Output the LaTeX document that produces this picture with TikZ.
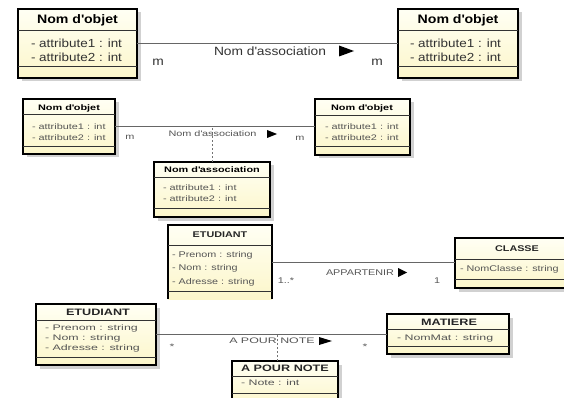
\documentclass[tikz,border=0pt]{standalone}
\usepackage{fontspec}
\setmainfont{Liberation Sans}
% horizontally widened faces, one per group of classes
\newfontfamily\fa{Liberation Sans}[FakeStretch=1.15]
\newfontfamily\fb{Liberation Sans}[FakeStretch=1.36]
\newfontfamily\fc{Liberation Sans}[FakeStretch=1.30]
\newfontfamily\fd{Liberation Sans}[FakeStretch=1.55]
\usetikzlibrary{shadows}

\definecolor{boxtop}{HTML}{FFFFF4}
\definecolor{boxbot}{HTML}{FCF6CA}
\definecolor{attrA}{HTML}{333333}
\definecolor{attrB}{HTML}{555555}
\definecolor{lineC}{HTML}{666666}

% class frame: name, x1, y1, x2, y2, border width
\newcommand\classfrm[6]{%
  \node[classbox=#6, minimum width={#4pt-#2pt}, minimum height={#5pt-#3pt}] (#1) at (#2,#3) {};}
% compartment divider: class name, y
\newcommand\divider[2]{\draw[divline] (#1.west |- 0,#2) -- (#1.east |- 0,#2);}

\begin{document}
\begin{tikzpicture}[x=1pt,y=-1pt,
  classbox/.style={draw=black, line width=#1, top color=boxtop, bottom color=boxbot,
    inner sep=0pt, outer sep=0pt, anchor=north west,
    drop shadow={shadow xshift=3.5pt, shadow yshift=-3.5pt, fill=black!18, opacity=1}},
  boxfill/.style={draw=none, top color=boxtop, bottom color=boxbot,
    inner sep=0pt, outer sep=0pt, anchor=north west},
  divline/.style={draw=black!80, line width=1pt},
  conn/.style={draw=lineC, line width=1pt},
  assocdots/.style={draw=black!55, line width=1pt, dash pattern=on 2pt off 2pt},
  txt/.style={inner sep=0pt, outer sep=0pt},
  % first pair of classes
  t1/.style={txt, font=\fa\bfseries\fontsize{12.3}{14}\selectfont},
  a1/.style={txt, anchor=west, text=attrA, font=\fa\fontsize{11.7}{14}\selectfont},
  l1/.style={txt, text=attrA, font=\fa\fontsize{12}{14}\selectfont},
  % association class example
  t2/.style={txt, font=\fb\bfseries\fontsize{8}{10}\selectfont},
  a2/.style={txt, anchor=west, text=attrB, font=\fb\fontsize{8}{10}\selectfont},
  l2/.style={txt, text=attrB, font=\fb\fontsize{8}{10}\selectfont},
  % ETUDIANT / CLASSE
  t3/.style={txt, text=black!85, font=\fc\bfseries\fontsize{8.3}{10}\selectfont},
  a3/.style={txt, anchor=west, text=attrB, font=\fc\fontsize{8.3}{10}\selectfont},
  l3/.style={txt, text=attrB, font=\fc\fontsize{8.3}{10}\selectfont},
  % ETUDIANT / MATIERE / A POUR NOTE
  t4/.style={txt, text=black!85, font=\fb\bfseries\fontsize{9.3}{11}\selectfont},
  a4/.style={txt, anchor=west, text=attrB, font=\fd\fontsize{8}{10}\selectfont},
  l4/.style={txt, text=attrB, font=\fd\fontsize{8}{10}\selectfont},
]
\useasboundingbox (0,0) rectangle (564,398);
\fill[white] (0,0) rectangle (564,398);
\clip (0,0) rectangle (564,398);

% ---------- generic binary association ----------
\classfrm{o1}{18}{9}{137}{78}{2.3pt}
\divider{o1}{31}\divider{o1}{67}
\node[t1] (o1n) at (77.5,20) {Nom d\textquotesingle objet};
\node[a1] (o1a) at (31,43) {- attribute1 : int};
\node[a1] (o1b) at (31,57.5) {- attribute2 : int};

\classfrm{o2}{398}{9}{518}{78}{2.3pt}
\divider{o2}{31}\divider{o2}{67}
\node[t1] (o2n) at (458,20) {Nom d\textquotesingle objet};
\node[a1] (o2a) at (410,43) {- attribute1 : int};
\node[a1] (o2b) at (410,57.5) {- attribute2 : int};

\draw[conn, line width=1.2pt] (o1.east) -- (o2.west);
\node[l1] (as1) at (270,51) {Nom d\textquotesingle association};
\fill (339,45.5) -- (354,51) -- (339,56.5) -- cycle;
\node[l1] (m1a) at (158,62) {m};
\node[l1] (m1b) at (377,62) {m};

% ---------- association class ----------
\classfrm{o3}{23}{99}{115}{154}{1.8pt}
\divider{o3}{115}\divider{o3}{147}
\node[t2] (o3n) at (69,108) {Nom d\textquotesingle objet};
\node[a2] (o3a) at (32,127) {- attribute1 : int};
\node[a2] (o3b) at (32,138) {- attribute2 : int};

\classfrm{o4}{315}{99}{410}{155}{1.8pt}
\divider{o4}{116}\divider{o4}{147}
\node[t2] (o4n) at (362,108) {Nom d\textquotesingle objet};
\node[a2] (o4a) at (325,127) {- attribute1 : int};
\node[a2] (o4b) at (325,138) {- attribute2 : int};

\classfrm{c2}{154}{162}{270}{217}{1.8pt}
\divider{c2}{177}\divider{c2}{208}
\node[t2] (c2n) at (212,170) {Nom d\textquotesingle association};
\node[a2] (c2a) at (163,188) {- attribute1 : int};
\node[a2] (c2b) at (163,199) {- attribute2 : int};

\draw[conn] (o3.east) -- (o3.east -| o4.west);
\draw[assocdots] (c2.north) -- (c2.north |- o3.east);
\node[l2] (as2) at (212.5,134) {Nom d\textquotesingle association};
\fill (267,130) -- (277,134) -- (267,138) -- cycle;
\node[l2] (m2a) at (130,137) {m};
\node[l2] (m2b) at (300,138) {m};

% ---------- ETUDIANT appartient a CLASSE ----------
\node[boxfill, minimum width=104pt, minimum height=74pt] (e3) at (168,225) {};
\draw[black, line width=1.5pt] (e3.south west) -- (e3.north west) -- (e3.north east) -- (e3.south east);
\divider{e3}{245}\divider{e3}{291}
\node[t3] (e3n) at (220,235) {ETUDIANT};
\node[a3] (e3a) at (172,255) {- Prenom : string};
\node[a3] (e3b) at (172,268.5) {- Nom : string};
\node[a3] (e3c) at (172,282) {- Adresse : string};

\classfrm{c3}{455}{238}{579}{288}{1.5pt}
\divider{c3}{259}\divider{c3}{279}
\node[t3] (c3n) at (517,249) {CLASSE};
\node[a3] (c3a) at (460,269) {- NomClasse : string};

\draw[conn] (e3.east) -- (e3.east -| c3.west);
\node[l3] (m3a) at (286,281) {1..*};
\node[l3] (as3) at (360,273) {APPARTENIR};
\fill (398,268) -- (407,272.5) -- (398,277) -- cycle;
\node[l3] (m3b) at (437,281) {1};

% ---------- ETUDIANT a pour note MATIERE ----------
\classfrm{e4}{36}{304}{156}{365}{1.6pt}
\divider{e4}{320}\divider{e4}{357}
\node[t4] (e4n) at (98,312.5) {ETUDIANT};
\node[a4] (e4a) at (45,328.5) {- Prenom : string};
\node[a4] (e4b) at (45,338.5) {- Nom : string};
\node[a4] (e4c) at (45,348.5) {- Adresse : string};

\classfrm{m4}{387}{314}{509}{354}{1.6pt}
\divider{m4}{329}\divider{m4}{346}
\node[t4] (m4n) at (449,322) {MATIERE};
\node[a4] (m4a) at (397,338) {- NomMat : string};

\classfrm{n4}{232}{361}{338}{406}{1.6pt}
\divider{n4}{376}\divider{n4}{393}
\node[t4] (n4n) at (285,368.5) {A POUR NOTE};
\node[a4] (n4a) at (241,383) {- Note : int};

\draw[conn] (e4.east) -- (e4.east -| m4.west);
\coordinate (d4) at (277,361);
\draw[assocdots] (d4) -- (d4 |- e4.east);
\node[l4] (m4l) at (172,347) {*};
\node[l4] (as4) at (272,341) {A POUR NOTE};
\fill (319,337) -- (332,341) -- (319,345) -- cycle;
\node[l4] (m4r) at (365,347) {*};
\end{tikzpicture}
\end{document}
